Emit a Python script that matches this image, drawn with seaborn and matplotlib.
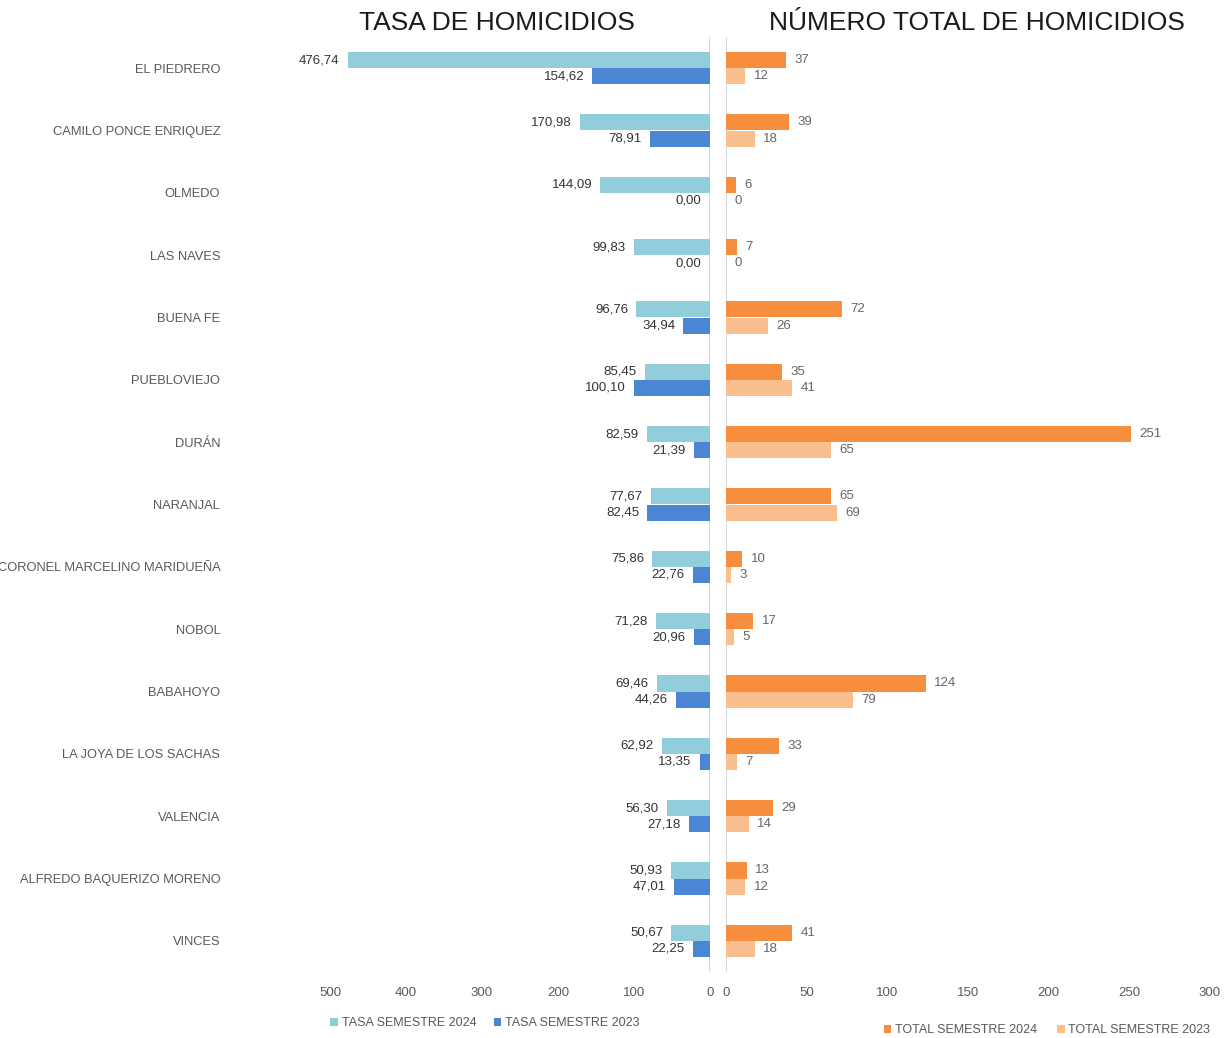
import matplotlib
matplotlib.use("Agg")
import matplotlib.pyplot as plt
import seaborn as sns
import pandas as pd

# Datos
cantones = ["EL PIEDRERO", "CAMILO PONCE ENRIQUEZ", "OLMEDO", "LAS NAVES", "BUENA FE",
            "PUEBLOVIEJO", "DURÁN", "NARANJAL", "CORONEL MARCELINO MARIDUEÑA", "NOBOL",
            "BABAHOYO", "LA JOYA DE LOS SACHAS", "VALENCIA", "ALFREDO BAQUERIZO MORENO", "VINCES"]
tasa_2024 = [476.74, 170.98, 144.09, 99.83, 96.76, 85.45, 82.59, 77.67, 75.86, 71.28,
             69.46, 62.92, 56.30, 50.93, 50.67]
tasa_2023 = [154.62, 78.91, 0.00, 0.00, 34.94, 100.10, 21.39, 82.45, 22.76, 20.96,
             44.26, 13.35, 27.18, 47.01, 22.25]
total_2024 = [37, 39, 6, 7, 72, 35, 251, 65, 10, 17, 124, 33, 29, 13, 41]
total_2023 = [12, 18, 0, 0, 26, 41, 65, 69, 3, 5, 79, 7, 14, 12, 18]

tasa_series = ["TASA SEMESTRE 2024", "TASA SEMESTRE 2023"]
total_series = ["TOTAL SEMESTRE 2024", "TOTAL SEMESTRE 2023"]
left_ticks = [500, 400, 300, 200, 100, 0]
right_ticks = [0, 50, 100, 150, 200, 250, 300]

df_tasa = pd.DataFrame({
    "canton": cantones * 2,
    "serie": [tasa_series[0]] * len(cantones) + [tasa_series[1]] * len(cantones),
    "valor": tasa_2024 + tasa_2023,
})
df_total = pd.DataFrame({
    "canton": cantones * 2,
    "serie": [total_series[0]] * len(cantones) + [total_series[1]] * len(cantones),
    "valor": total_2024 + total_2023,
})

sns.set_theme(style="white")
plt.rcParams["font.family"] = ["Liberation Sans", "DejaVu Sans"]
GRIS = "#595959"

W, H = 1230, 1038
fig = plt.figure(figsize=(W / 100, H / 100), dpi=100)

def frac(x0, y0, x1, y1):
    return [x0 / W, 1 - y1 / H, (x1 - x0) / W, (y1 - y0) / H]

ax_l = fig.add_axes(frac(330, 37, 710, 972))
ax_r = fig.add_axes(frac(726, 37, 1210, 972))

sns.barplot(data=df_tasa, y="canton", x="valor", hue="serie", order=cantones,
            hue_order=tasa_series, palette=["#92CDDC", "#4A86D4"], orient="h",
            width=0.52, saturation=1, linewidth=0, ax=ax_l)
sns.barplot(data=df_total, y="canton", x="valor", hue="serie", order=cantones,
            hue_order=total_series, palette=["#F78E3D", "#F9BF8F"], orient="h",
            width=0.52, saturation=1, linewidth=0, ax=ax_r)

ax_l.set_xlim(500, 0)
ax_r.set_xlim(0, 300)
ax_l.set_xticks(left_ticks)
ax_r.set_xticks(right_ticks)

for ax in (ax_l, ax_r):
    sns.despine(ax=ax, left=True, bottom=True)
    ax.set_xlabel("")
    ax.set_ylabel("")
    ax.axvline(0, color="#d0d0d0", lw=1.2, zorder=0)
    ax.tick_params(axis="x", length=0, labelsize=9.5, labelcolor=GRIS, pad=11)
    ax.get_legend().remove()

ax_l.tick_params(axis="y", length=0, labelsize=9.3, labelcolor=GRIS, pad=79)
ax_r.set_yticks([])

# etiquetas de valores: a la izquierda de cada barra en el panel de tasas
for cont in ax_l.containers:
    for b in cont:
        ax_l.annotate(f"{b.get_width():.2f}".replace(".", ","),
                      (b.get_width(), b.get_y() + b.get_height() / 2),
                      xytext=(-6, 0), textcoords="offset points",
                      ha="right", va="center", fontsize=9.5, color="#333333")
for cont in ax_r.containers:
    ax_r.bar_label(cont, labels=[f"{b.get_width():.0f}" for b in cont],
                   padding=6, fontsize=9.5, color="#666666")

fig.text(497 / W, 1 - 23 / H, "TASA DE HOMICIDIOS", ha="center", va="center",
         fontsize=19, color="#1a1a1a")
fig.text(977 / W, 1 - 23 / H, "NÚMERO TOTAL DE HOMICIDIOS", ha="center", va="center",
         fontsize=19, color="#1a1a1a")

h, l = ax_l.get_legend_handles_labels()
fig.legend(h, l, loc="center", bbox_to_anchor=(485 / W, 1 - 1023 / H), ncol=2, frameon=False,
           fontsize=9, labelcolor=GRIS, handlelength=0.6, handleheight=0.6,
           handletextpad=0.3, columnspacing=1.4)
h, l = ax_r.get_legend_handles_labels()
fig.legend(h, l, loc="center", bbox_to_anchor=(1047 / W, 1 - 1030 / H), ncol=2, frameon=False,
           fontsize=9, labelcolor=GRIS, handlelength=0.6, handleheight=0.6,
           handletextpad=0.3, columnspacing=1.6)

fig.savefig("out.png", dpi=100, facecolor="white")
